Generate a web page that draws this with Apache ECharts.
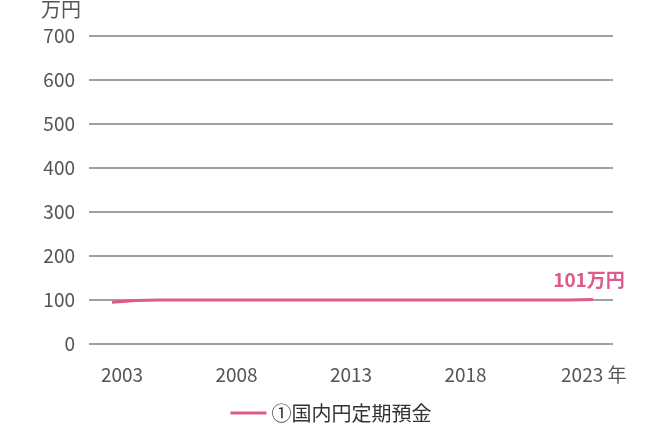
<!DOCTYPE html>
<html>
<head>
<meta charset="utf-8">
<script src="https://cdn.jsdelivr.net/npm/echarts@6/dist/echarts.min.js"></script>
<style>html,body{margin:0;padding:0;background:#fff}#c{width:662px;height:425px}</style>
</head>
<body>
<div id="c"></div>
<script>
const years = ['2003','2004','2005','2006','2007','2008','2009','2010','2011','2012','2013','2014','2015','2016','2017','2018','2019','2020','2021','2022','2023'];
const values = [95,99,100,100,100,100,100,100,100,100,100,100,100,100,100,100,100,100,100,100,101];
const tickYears = [2003,2008,2013,2018,2023];
const seriesName = '①国内円定期預金';
const unitY = '万円';
const unitX = '年';

const font = '"Noto Sans CJK JP", "Noto Sans", sans-serif';
const pink = '#de5a8b';
const lastTickPos = 2023.6; // last label is centred including its unit
const chart = echarts.init(document.getElementById('c'));
chart.setOption({
  animation: false,
  textStyle: {fontFamily: font},
  legend: {
    bottom: -3, left: 'center', itemWidth: 36, itemHeight: 3, itemGap: 8,
    icon: 'rect',
    textStyle: {fontSize: 20, color: '#333', fontFamily: font, padding: [0, 0, 0, 0]},
    data: [{name: seriesName, itemStyle: {color: pink}}]
  },
  grid: [
    {left: 89, right: 49, top: 36, bottom: 81, outerBoundsMode: 'none'},
    {left: 112, right: 69, top: 36, bottom: 81, outerBoundsMode: 'none'}
  ],
  xAxis: [
    {
      gridIndex: 0, type: 'value', min: 2001.56, max: 2024.44,
      axisLine: {show: false}, axisTick: {show: false}, splitLine: {show: false},
      axisLabel: {
        customValues: tickYears.slice(0, -1).concat([lastTickPos]), margin: 21, fontSize: 19, color: '#555', fontFamily: font,
        formatter: v => v > 2023 ? tickYears[tickYears.length - 1] + ' ' + unitX : String(Math.round(v))
      }
    },
    {
      gridIndex: 1, type: 'category', data: years, boundaryGap: false, show: false
    }
  ],
  yAxis: [
    {
      gridIndex: 0, type: 'value', min: 0, max: 700, interval: 100,
      name: unitY, nameLocation: 'end', nameGap: 17,
      nameTextStyle: {align: 'right', fontSize: 20, color: '#555', padding: [0, 8, 0, 0], fontFamily: font},
      axisLine: {show: false}, axisTick: {show: false},
      axisLabel: {fontSize: 19, color: '#555', margin: 14, fontFamily: font},
      splitLine: {lineStyle: {color: '#a0a0a0', width: 2}}
    },
    {
      gridIndex: 1, type: 'value', min: 0, max: 700, show: false
    }
  ],
  series: [{
    name: seriesName, type: 'line', xAxisIndex: 1, yAxisIndex: 1,
    data: values,
    symbol: 'none', smooth: false,
    lineStyle: {color: pink, width: 3},
    itemStyle: {color: pink},
    endLabel: {
      show: true, formatter: p => p.value + unitY, color: pink, fontWeight: 'bold', fontSize: 19,
      fontFamily: font, align: 'center', verticalAlign: 'bottom', distance: 0, offset: [-4, -10]
    }
  }]
});
</script>
</body>
</html>
